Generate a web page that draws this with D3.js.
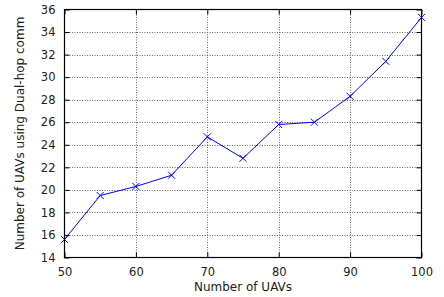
<!DOCTYPE html>
<html>
<head>
<meta charset="utf-8">
<script src="https://cdn.jsdelivr.net/npm/d3@7"></script>
<style>
  body { margin: 0; background: #fff; }
  svg text { font-family: "DejaVu Sans", sans-serif; fill: #222; }
</style>
</head>
<body>
<div id="chart"></div>
<script>
// chart values
const uavs = [50, 55, 60, 65, 70, 75, 80, 85, 90, 95, 100];
const dualHop = [15.6, 19.5, 20.3, 21.3, 24.7, 22.8, 25.8, 26.0, 28.3, 31.4, 35.3];
const xTicks = [50, 60, 70, 80, 90, 100];
const yTicks = [14, 16, 18, 20, 22, 24, 26, 28, 30, 32, 34, 36];

const width = 444, height = 297;
const margin = { top: 9.5, right: 22.5, bottom: 39.5, left: 64.5 };

const svg = d3.select('#chart').append('svg')
  .attr('width', width)
  .attr('height', height);

let x = d3.scaleLinear()
  .domain([50, 100])
  .range([margin.left, width - margin.right]);

let y = d3.scaleLinear()
  .domain([14, 36])
  .range([height - margin.bottom, margin.top]);

// grid
let grid = svg.append('g').attr('stroke', '#666').attr('stroke-width', 1).attr('stroke-dasharray', '1,1.5');
grid.selectAll('.gx')
  .data(xTicks.slice(1, -1))
  .enter().append('line')
    .attr('x1', d => Math.round(x(d)) + 0.5).attr('x2', d => Math.round(x(d)) + 0.5)
    .attr('y1', y(36)).attr('y2', y(14));
grid.selectAll('.gy')
  .data(yTicks.slice(1, -1))
  .enter().append('line')
    .attr('y1', d => Math.round(y(d)) + 0.5).attr('y2', d => Math.round(y(d)) + 0.5)
    .attr('x1', x(50)).attr('x2', x(100));

// axes with inward ticks on all sides
let xAxis = g => g
  .attr('transform', `translate(0,${y(14)})`)
  .call(d3.axisBottom(x).tickValues(xTicks).tickSizeInner(-5).tickSizeOuter(0).tickPadding(10))
  .call(g => g.select('.domain').remove());
let xAxisTop = g => g
  .attr('transform', `translate(0,${y(36)})`)
  .call(d3.axisTop(x).tickValues(xTicks).tickSizeInner(-5).tickSizeOuter(0).tickFormat(''))
  .call(g => g.select('.domain').remove());
let yAxis = g => g
  .attr('transform', `translate(${x(50)},0)`)
  .call(d3.axisLeft(y).tickValues(yTicks).tickSizeInner(-5).tickSizeOuter(0).tickPadding(9))
  .call(g => g.select('.domain').remove());
let yAxisRight = g => g
  .attr('transform', `translate(${x(100)},0)`)
  .call(d3.axisRight(y).tickValues(yTicks).tickSizeInner(-5).tickSizeOuter(0).tickFormat(''))
  .call(g => g.select('.domain').remove());

svg.append('g').call(xAxis);
svg.append('g').call(xAxisTop);
svg.append('g').call(yAxis);
svg.append('g').call(yAxisRight);

svg.selectAll('.tick text')
  .attr('font-size', 11.5)
  .attr('font-family', '"DejaVu Sans", sans-serif')
  .attr('fill', '#222');
svg.selectAll('.tick line').attr('stroke', '#000');

// frame
svg.append('rect')
  .attr('x', x(50)).attr('y', y(36))
  .attr('width', x(100) - x(50)).attr('height', y(14) - y(36))
  .attr('fill', 'none').attr('stroke', '#000').attr('stroke-width', 1.2);

// series
let pts = uavs.map((u, i) => [u, dualHop[i]]);
let line = d3.line().x(d => x(d[0])).y(d => y(d[1]));
svg.append('path')
  .datum(pts)
  .attr('d', line)
  .attr('fill', 'none')
  .attr('stroke', '#0000ff')
  .attr('stroke-width', 1);

let r = 3.5;
svg.append('g').selectAll('path')
  .data(pts)
  .enter().append('path')
    .attr('d', d => {
      let cx = x(d[0]), cy = y(d[1]);
      return `M${cx - r},${cy - r}L${cx + r},${cy + r}M${cx - r},${cy + r}L${cx + r},${cy - r}`;
    })
    .attr('stroke', '#0000ff')
    .attr('stroke-width', 1);

// labels
svg.append('text')
  .attr('x', (x(50) + x(100)) / 2)
  .attr('y', 291)
  .attr('text-anchor', 'middle')
  .attr('font-size', 12)
  .text('Number of UAVs');

svg.append('text')
  .attr('transform', `translate(24,${(y(14) + y(36)) / 2}) rotate(-90)`)
  .attr('text-anchor', 'middle')
  .attr('font-size', 12)
  .text('Number of UAVs using Dual-hop comm');
</script>
</body>
</html>
